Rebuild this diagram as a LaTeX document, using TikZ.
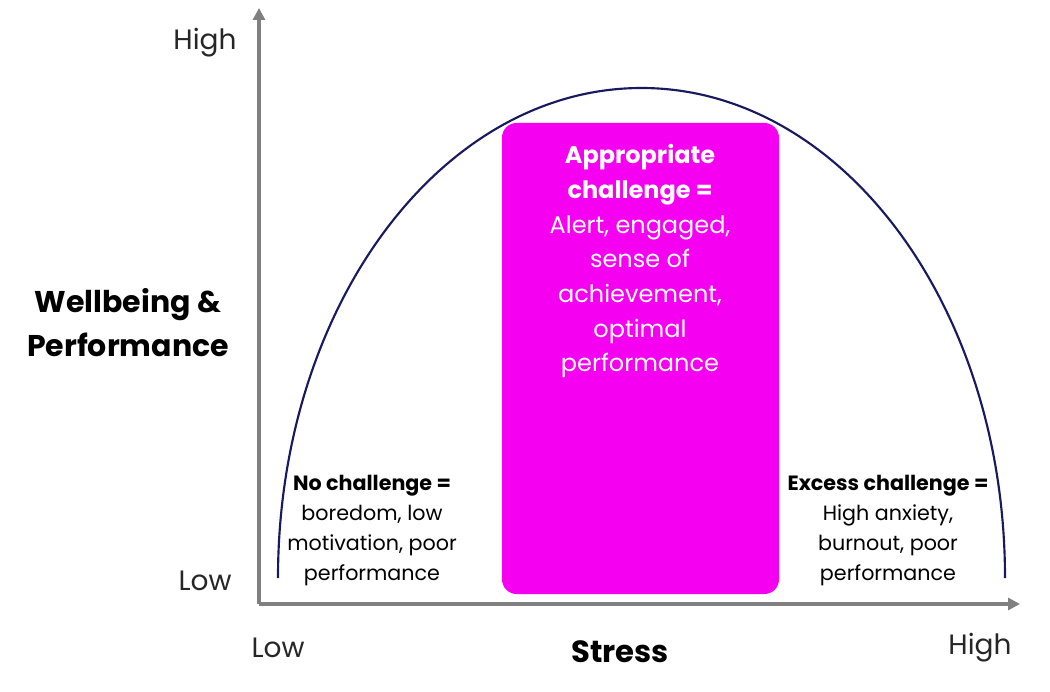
\documentclass[tikz,border=0pt]{standalone}
\usepackage{fontspec}
\setmainfont{Poppins}
\usepackage{xcolor}
\usetikzlibrary{arrows.meta}
\definecolor{axisgray}{RGB}{128,128,128}
\definecolor{curvenavy}{RGB}{25,25,95}
\definecolor{zonemagenta}{RGB}{245,0,240}
\tikzset{
  axisline/.style={draw=axisgray,line width=3pt,-{Triangle[length=9pt,width=9pt]}},
  ticklabel/.style={font=\fontsize{21}{24}\selectfont,text=black!85},
  zonetext/.style={align=center,font=\fontsize{15.5}{22.5}\selectfont},
  boxtext/.style={align=center,text=white,font=\fontsize{18}{26}\selectfont}
}
\begin{document}
\begin{tikzpicture}[x=0.75pt,y=0.75pt,yscale=-1,xscale=1]
\useasboundingbox (0,0) rectangle (1050,692);

%Optimal zone
\fill[zonemagenta,rounded corners=11pt] (502,123) rectangle (779,594);

%Axes
\coordinate (origin) at (259,604);
\coordinate (ytop) at (259,8);
\coordinate (xend) at (1020,604);
\draw[axisline] (origin) -- (ytop);
\draw[axisline] (origin) -- (xend);

%Curve
\draw[curvenavy,line width=1.6pt] (278,578) arc[start angle=180,end angle=360,x radius=363.5,y radius=490];

% Axis labels
\node[ticklabel] (yhigh) at (205,43) {High};
\node[ticklabel] (ylow) at (205,581) {Low};
\node[ticklabel] (xlow) at (278,648) {Low};
\node[ticklabel] (xhigh) at (980,648) {High};
\node[font=\fontsize{23}{26}\selectfont\bfseries] (xtitle) at (620,652) {Stress};
\node[align=center,font=\fontsize{22.5}{33}\selectfont\bfseries] (ytitle) at (128,323) {Wellbeing \&\\Performance};

% Zone texts
\node[boxtext,anchor=north] (optimal) at (640,140) {\textbf{Appropriate}\\\textbf{challenge =}\\Alert, engaged,\\sense of\\achievement,\\optimal\\performance};
\node[zonetext,anchor=north] (bored) at (372,470) {\textbf{No challenge =}\\boredom, low\\motivation, poor\\performance};
\node[zonetext,anchor=north] (burnout) at (888,470) {\textbf{Excess challenge =}\\High anxiety,\\burnout, poor\\performance};
\end{tikzpicture}
\end{document}
